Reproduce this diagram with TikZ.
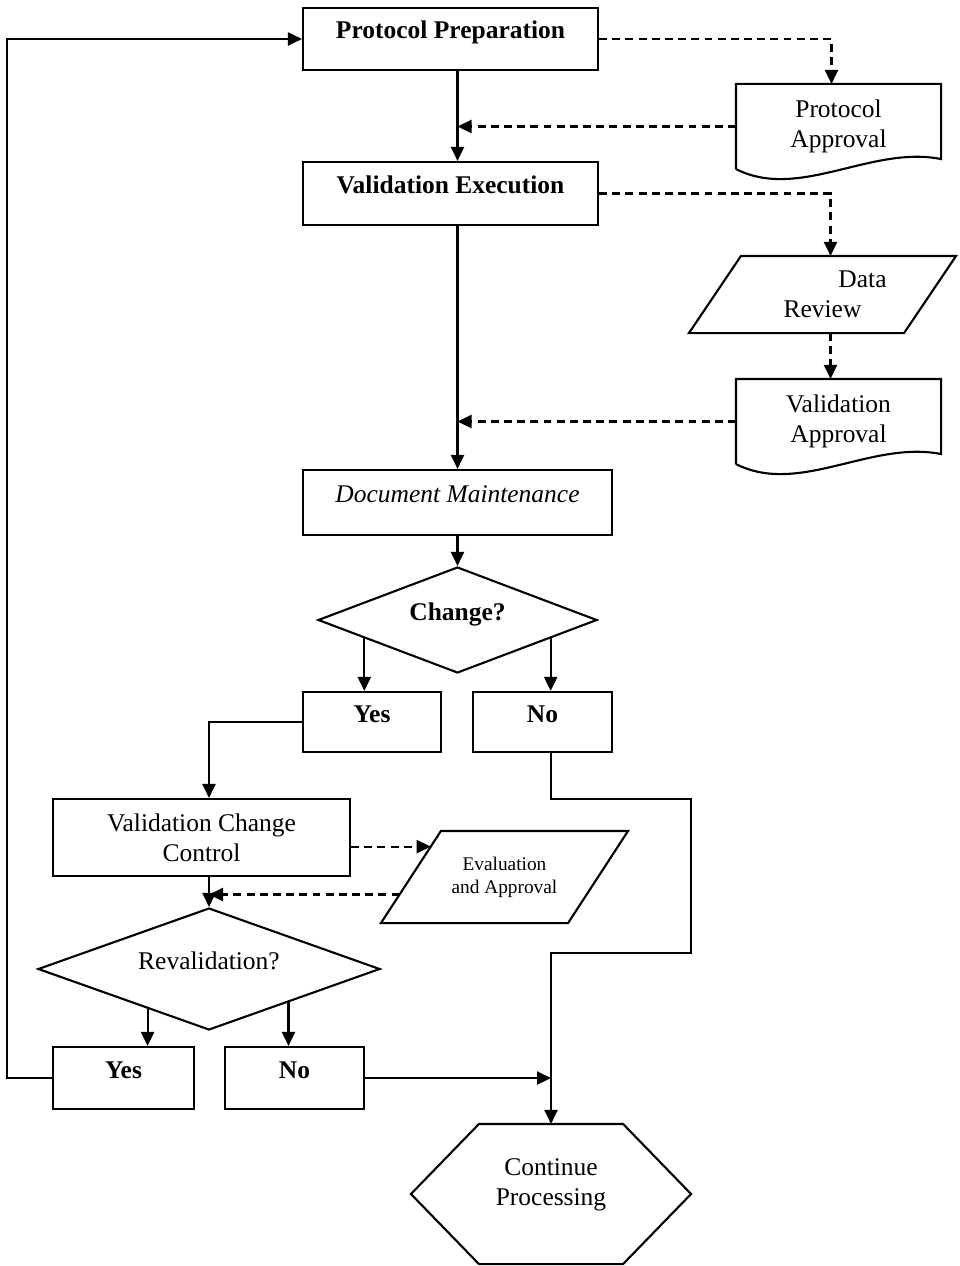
\documentclass[tikz,border=0pt]{standalone}
\usepackage{fontspec}
\setmainfont{Liberation Serif}
\usetikzlibrary{positioning,arrows.meta,calc,shapes.geometric}

\begin{document}
\begin{tikzpicture}[x=0.2mm, y=-0.2mm, line width=1.2pt, >={Triangle[length=2.8mm,width=2.6mm]},
  txt/.style={font=\fontsize{14.5}{17}\selectfont},
  heading/.style={font=\fontsize{14.5}{17}\selectfont\bfseries},
  box/.style={draw, align=center, inner sep=0pt},
  one/.style={text height=1.5ex, text depth=1.5ex},
  plain/.style={align=center, inner sep=0pt},
  choice/.style={draw, diamond, inner sep=0pt, text height=1.5ex, text depth=1.5ex},
  dashes/.style={dash pattern=on 4.5pt off 3pt}]
\useasboundingbox (0,0) rectangle (959,1266);
\node[box, one, heading, minimum width=5.9cm, minimum height=1.24cm] (pp) at (450.5,39) {Protocol Preparation};
\node[box, one, heading, minimum width=5.9cm, minimum height=1.26cm] (ve) at (450.5,193.5) {Validation Execution};
\node[box, one, txt, minimum width=6.18cm, minimum height=1.3cm] (dm) at (457.5,502.5) {\itshape Document Maintenance};
\node[choice, heading, aspect=2.63, minimum width=5.58cm, minimum height=2.12cm] (chg) at (457.5,620) {Change?};
\node[box, one, heading, minimum width=2.76cm, minimum height=1.2cm] (yes1) at (372,722) {Yes};
\node[box, one, heading, minimum width=2.78cm, minimum height=1.2cm] (no1) at (542.5,722) {No};
\node[box, txt, minimum width=5.94cm, minimum height=1.54cm] (vcc) at (201.5,837.5) {Validation Change\\Control};
\node[choice, txt, aspect=2.8, minimum width=6.84cm, minimum height=2.44cm] (rev) at (209,969) {Revalidation?};
\node[box, one, heading, minimum width=2.82cm, minimum height=1.24cm] (yes2) at (123.5,1078) {Yes};
\node[box, one, heading, minimum width=2.78cm, minimum height=1.24cm] (no2) at (294.5,1078) {No};
\node[plain, txt, minimum width=4.06cm, minimum height=1.66cm] (pa) at (838.5,126.5) {Protocol\\Approval};
\node[plain, txt, minimum width=5.3cm, minimum height=1.5cm] (dr) at (822.5,294.5) {\hspace*{1.6cm}Data\\Review};
\node[plain, txt, minimum width=4.06cm, minimum height=1.66cm] (va) at (838.5,421.5) {Validation\\Approval};
\node[plain, font=\fontsize{11}{13}\selectfont, minimum width=4.9cm, minimum height=1.8cm] (ea) at (504.5,877) {Evaluation\\and Approval};
\node[plain, txt, text depth=0.49cm, minimum width=5.56cm, minimum height=2.76cm] (cont) at (551,1194) {Continue\\Processing};
\foreach \d in {pa,va}{
  \draw (\d.south west) -- (\d.north west) -- (\d.north east) -- ($(\d.south east)+(0,-10)$) .. controls +(-70,-14) and +(63,32) .. (\d.south west);
}
\draw (dr.south west) -- ($(dr.north west)+(52,0)$) -- (dr.north east) -- ($(dr.south east)+(-52,0)$) -- cycle;
\draw (ea.south west) coordinate (ea-sw) -- ($(ea.north west)+(60,0)$) coordinate (ea-nw) -- (ea.north east) -- ($(ea.south east)+(-60,0)$) -- cycle;
\draw (cont.west) -- ($(cont.north west)+(68,0)$) -- ($(cont.north east)+(-68,0)$) -- (cont.east) -- ($(cont.south east)+(-68,0)$) -- ($(cont.south west)+(68,0)$) -- cycle;
\draw[->] (pp.south -| dm.north) -- (ve.north -| dm.north);
\draw[->] (ve.south -| dm.north) -- (dm.north);
\draw[->] (dm.south) -- (chg.north);
\draw[->, dashes] (pp.east) -| ($(pa.north)+(-7,0)$);
\draw[->, dashes] (pa.west) -- (pa.west -| dm.north);
\draw[->, dashes] (ve.east) -| ($(dr.north)+(8,0)$);
\draw[->, dashes] ($(dr.south)+(8,0)$) -- ($(va.north)+(-8,0)$);
\draw[->, dashes] (va.west) -- (va.west -| dm.north);
\coordinate (cl) at ($(chg.west)!0.337!(chg.south)$);
\coordinate (cr) at ($(chg.east)!0.337!(chg.south)$);
\coordinate (rl) at ($(rev.west)!0.643!(rev.south)$);
\coordinate (rr) at ($(rev.east)!0.538!(rev.south)$);
\draw[->] (cl) -- (cl |- yes1.north);
\draw[->] (cr) -- (cr |- no1.north);
\draw[->] (rl) -- (rl |- yes2.north);
\draw[->] (rr) -- (rr |- no2.north);
\draw[->] (yes1.west) -| (rev.north |- vcc.north);
\draw[->] (rev.north |- vcc.south) -- (rev.north);
\draw[->] (no1.south -| cont.north) -- ++(0,46) -- ++(140,0) -- ++(0,154) -- ++(-140,0) -- (cont.north);
\coordinate (ea-in) at ($(ea-sw)!0.83!(ea-nw)$);
\coordinate (ea-out) at ($(ea-sw)!0.31!(ea-nw)$);
\draw[->, dashes] (vcc.east |- ea-in) -- (ea-in);
\draw[->, dashes] (ea-out) -- (ea-out -| rev.north);
\draw[->] (no2.east) -- (no2.east -| cont.north);
\draw[->] (yes2.west) -- ++(-45,0) |- (pp.west);
\end{tikzpicture}
\end{document}
